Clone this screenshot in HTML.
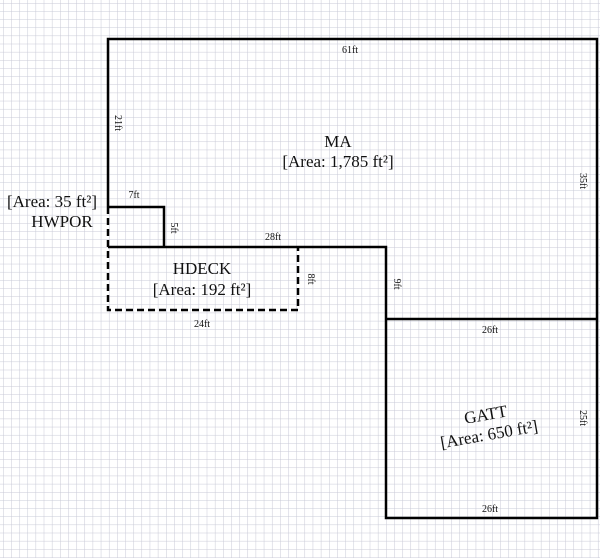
<!DOCTYPE html>
<html><head><style>
html,body{margin:0;padding:0;background:#fff;}
svg{display:block;}
</style></head><body>
<svg width="600" height="558" viewBox="0 0 600 558" xmlns="http://www.w3.org/2000/svg" font-family="Liberation Serif, serif">
<defs>
<pattern id="g" x="3" y="3" width="8.15" height="8.15" patternUnits="userSpaceOnUse">
<path d="M0 0H8.15M0 0V8.15" stroke="#c8c9d6" stroke-width="1" fill="none"/>
</pattern>
</defs>
<rect width="600" height="558" fill="url(#g)"/>
<g stroke="#000" stroke-width="2.5" fill="none">
<path d="M108 207V39H597V518H386V247H108"/>
<path d="M386 319H597"/>
<path d="M108 207H164V247"/>
<path d="M108 207V310H298V247" stroke-dasharray="7,4"/>
</g>
<g font-size="10" text-anchor="middle" fill="#111" font-family="Liberation Serif, serif">
<text x="350" y="53">61ft</text>
<text x="273" y="240">28ft</text>
<text x="134" y="198">7ft</text>
<text x="202" y="327">24ft</text>
<text x="490" y="333">26ft</text>
<text x="490" y="512">26ft</text>
<text transform="translate(115,123) rotate(90)">21ft</text>
<text transform="translate(171,228) rotate(90)">5ft</text>
<text transform="translate(308,279) rotate(90)">8ft</text>
<text transform="translate(394,284) rotate(90)">9ft</text>
<text transform="translate(580,181) rotate(90)">35ft</text>
<text transform="translate(580,418) rotate(90)">25ft</text>
</g>
<g font-size="17" text-anchor="middle" fill="#111" font-family="Liberation Serif, serif">
<text x="338" y="147">MA</text>
<text x="338" y="167">[Area: 1,785 ft²]</text>
<text x="52" y="207">[Area: 35 ft²]</text>
<text x="62" y="227">HWPOR</text>
<text x="202" y="274">HDECK</text>
<text x="202" y="295">[Area: 192 ft²]</text>
<g transform="translate(488,428) rotate(-10)">
<text x="0" y="-8">GATT</text>
<text x="0" y="12">[Area: 650 ft²]</text>
</g>
</g>
</svg>
</body></html>
